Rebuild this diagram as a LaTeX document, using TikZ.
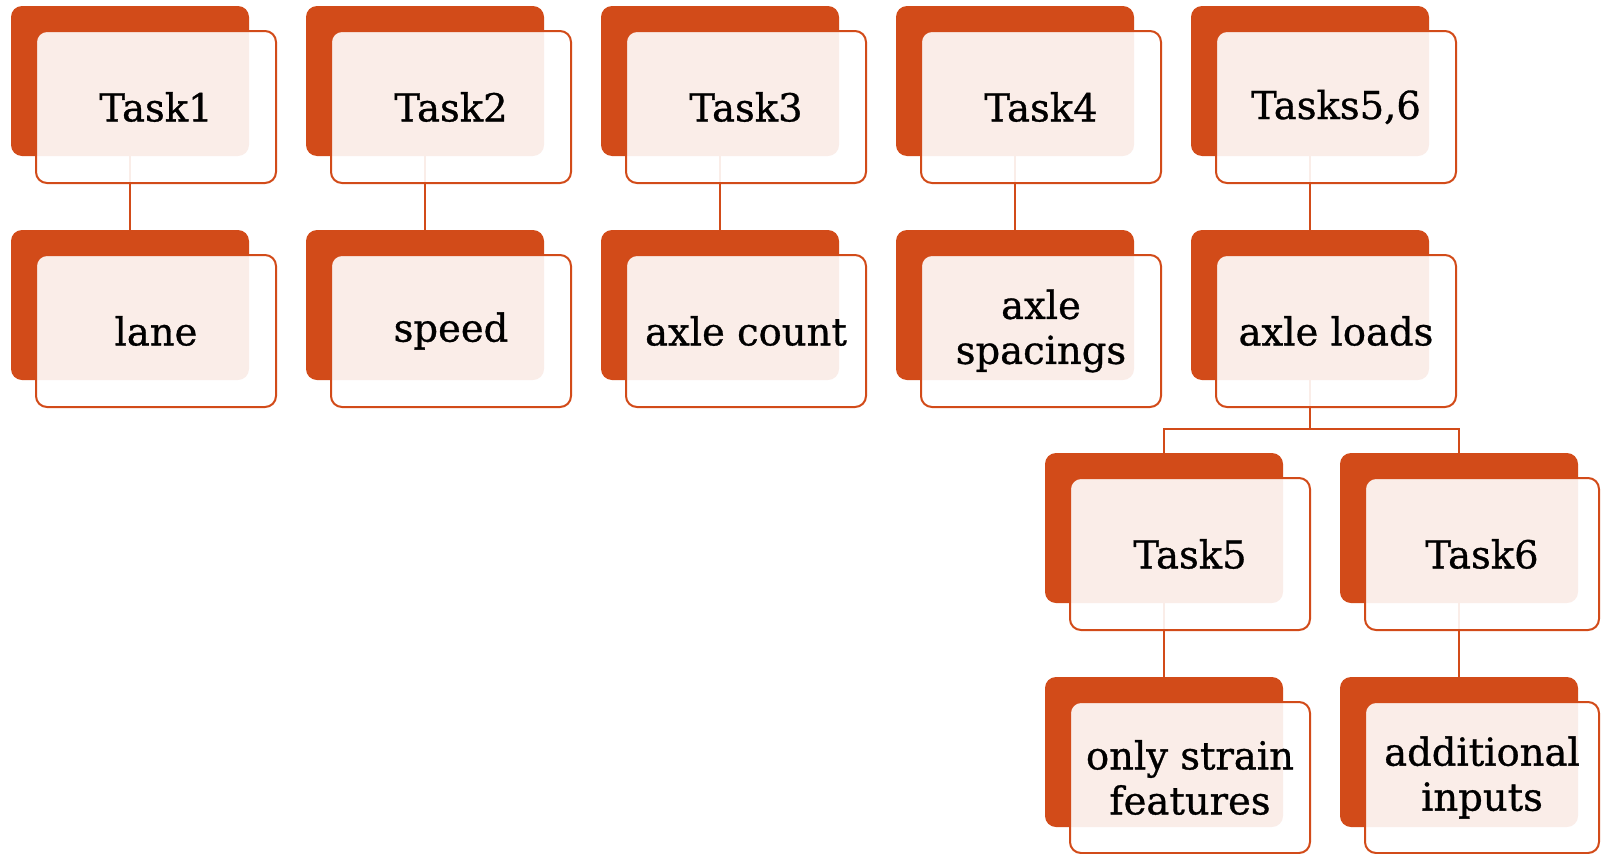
\documentclass[tikz,border=0pt]{standalone}
\usepackage{fontspec}
\setmainfont{DejaVu Serif}[FakeBold=0.8]
\definecolor{rust}{HTML}{D24B19}
\tikzset{
  darkbox/.style={fill=rust, rounded corners=11pt, minimum width=238pt, minimum height=150pt,
    inner sep=0pt, outer sep=0pt, anchor=north west},
  frontbox/.style={draw=rust, line width=2pt, fill=white, fill opacity=0.9, text opacity=1,
    rounded corners=11pt, minimum width=240pt, minimum height=152pt, inner sep=0pt, outer sep=0pt,
    anchor=north west, align=center, font=\fontsize{38.5}{45}\selectfont, text=black},
  conn/.style={draw=rust, line width=2pt}
}
\newcommand{\darkat}[3]{\node[darkbox] (d#1) at (#2,#3) {};}
\newcommand{\frontat}[5][]{\node[frontbox,#1] (f#2) at (#3+25,#4+25) {#5};}
\begin{document}
\begin{tikzpicture}[x=1pt,y=-1pt]
\useasboundingbox (0,0) rectangle (1601,854);
% dark back boxes
\darkat{1}{11}{6}
\darkat{2}{306}{6}
\darkat{3}{601}{6}
\darkat{4}{896}{6}
\darkat{5}{1191}{6}
\darkat{6}{11}{230}
\darkat{7}{306}{230}
\darkat{8}{601}{230}
\darkat{9}{896}{230}
\darkat{10}{1191}{230}
\darkat{11}{1045}{453}
\darkat{12}{1340}{453}
\darkat{13}{1045}{677}
\darkat{14}{1340}{677}
% connectors
\draw[conn] (d1.south) -- (d6.north);
\draw[conn] (d2.south) -- (d7.north);
\draw[conn] (d3.south) -- (d8.north);
\draw[conn] (d4.south) -- (d9.north);
\draw[conn] (d5.south) -- (d10.north);
\coordinate (bus) at (1310,429);
\draw[conn] (d10.south) -- (bus);
\draw[conn] (d11.north) |- (bus) -| (d12.north);
\draw[conn] (d11.south) -- (d13.north);
\draw[conn] (d12.south) -- (d14.north);
% front boxes with text
\frontat{1}{11}{6}{Task1}
\frontat{2}{306}{6}{Task2}
\frontat{3}{601}{6}{Task3}
\frontat{4}{896}{6}{Task4}
\frontat{5}{1191}{6}{Tasks5,6}
\frontat{6}{11}{230}{lane}
\frontat{7}{306}{230}{speed}
\frontat{8}{601}{230}{axle count}
\frontat{9}{896}{230}{axle\\spacings}
\frontat{10}{1191}{230}{axle loads}
\frontat{11}{1045}{453}{Task5}
\frontat[minimum width=234pt]{12}{1340}{453}{Task6}
\frontat[minimum height=151pt]{13}{1045}{677}{only strain\\features}
\frontat[minimum width=234pt, minimum height=151pt]{14}{1340}{677}{additional\\inputs}
\end{tikzpicture}
\end{document}
